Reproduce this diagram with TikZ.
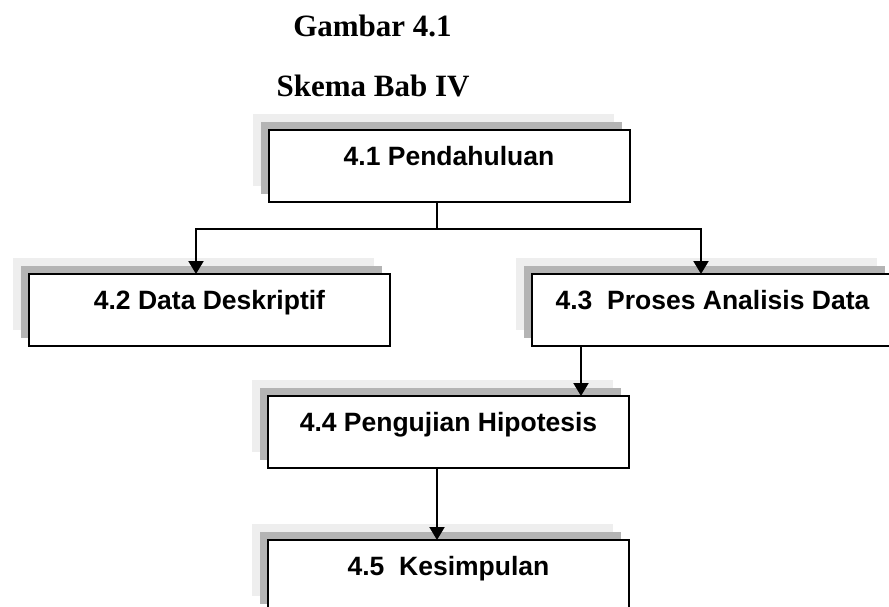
\documentclass[tikz,border=0pt]{standalone}
\usepackage{fontspec}
\usetikzlibrary{arrows.meta,shadows}
\newfontfamily\boxfont{Liberation Sans}
\newfontfamily\headfont{Liberation Serif}
\definecolor{shlight}{RGB}{238,238,238}
\definecolor{shdark}{RGB}{180,180,180}
\tikzset{
  chapbox/.style={draw=black, line width=2pt, fill=white,
    minimum width=361pt, inner sep=0pt, outer sep=0pt,
    text height=35pt, text depth=37pt, anchor=north,
    font=\boxfont\fontsize{26.5pt}{30pt}\selectfont\bfseries,
    general shadow={fill=shlight, shadow xshift=-16pt, shadow yshift=16pt},
    general shadow={fill=shdark, shadow xshift=-8pt, shadow yshift=8pt}},
  headline/.style={anchor=base, inner sep=0pt,
    font=\headfont\fontsize{31pt}{36pt}\selectfont\bfseries},
  arr/.style={line width=2pt, -{Triangle[width=15pt,length=13pt]}},
  link/.style={line width=2pt}
}
\begin{document}
\begin{tikzpicture}[x=1pt,y=-1pt]
  \useasboundingbox (0,0) rectangle (889,607);
  \clip (0,0) rectangle (889,607);
  \fill[white] (0,0) rectangle (889,607);

  % heading
  \node[headline] (t1) at (372.5,37) {Gambar 4.1};
  \node[headline] (t2) at (373,97) {Skema Bab IV};

  % chapter boxes
  \node[chapbox] (b1) at (449,130) {4.1 Pendahuluan};
  \node[chapbox] (b2) at (209.5,274) {4.2 Data Deskriptif};
  \node[chapbox] (b3) at (712.5,274) {4.3\ \ Proses Analisis Data};
  \node[chapbox] (b4) at (448.5,396) {4.4 Pengujian Hipotesis};
  \node[chapbox] (b5) at (448.5,540) {4.5\ \ Kesimpulan};

  % connector routing points
  \coordinate (j) at (437,228.5);
  \coordinate (l) at (196,228.5);
  \coordinate (r) at (701,228.5);
  \coordinate (c34) at (581,0);

  \draw[link] (b1.south -| j) -- (j);
  \draw[arr] (j) -- (l) -- (l |- b2.north);
  \draw[arr] (j) -- (r) -- (r |- b3.north);
  \draw[arr] (b3.south -| c34) -- (b4.north -| c34);
  \draw[arr] (b4.south -| j) -- (b5.north -| j);
\end{tikzpicture}
\end{document}
